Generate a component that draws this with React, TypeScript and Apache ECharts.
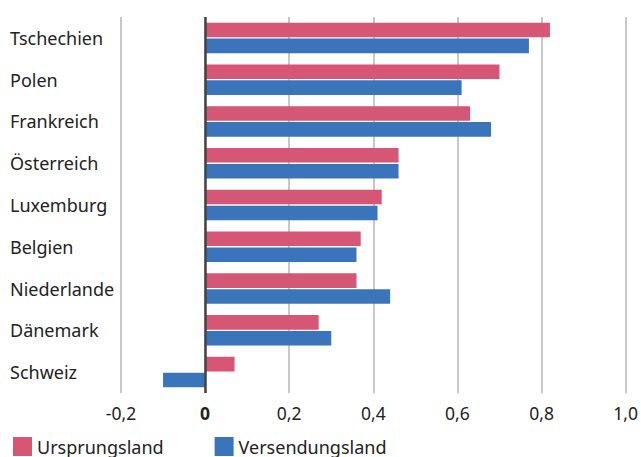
import React, { useEffect, useRef } from "react";
import * as echarts from "echarts";

const categories = ["Tschechien", "Polen", "Frankreich", "Österreich", "Luxemburg", "Belgien", "Niederlande", "Dänemark", "Schweiz"];
const ursprungsland = [0.82, 0.70, 0.63, 0.46, 0.42, 0.37, 0.36, 0.27, 0.07];
const versendungsland = [0.77, 0.61, 0.68, 0.46, 0.41, 0.36, 0.44, 0.30, -0.10];
const seriesNames = ["Ursprungsland", "Versendungsland"];
const xMin = -0.2;
const xMax = 1.0;
const xStep = 0.2;

const FONT = "'Noto Sans', sans-serif";

export default function App() {
  const ref = useRef<HTMLDivElement>(null);
  useEffect(() => {
    if (!ref.current) return;
    const chart = echarts.init(ref.current, undefined, { renderer: "svg" });
    chart.setOption({
      animation: false,
      backgroundColor: "#ffffff",
      textStyle: { fontFamily: FONT },
      grid: { left: 121, right: 15, top: 17, bottom: 64, containLabel: false },
      legend: {
        left: 13,
        top: 437,
        padding: 0,
        itemWidth: 19,
        itemHeight: 19,
        itemGap: 51,
        icon: "rect",
        textStyle: { fontSize: 18, color: "#222", fontFamily: FONT, lineHeight: 19 },
        data: seriesNames,
      },
      xAxis: {
        type: "value",
        min: xMin,
        max: xMax,
        interval: xStep,
        axisLine: { show: false },
        axisTick: { show: false },
        splitLine: { show: true, lineStyle: { color: "#b4b4b4", width: 1.5 } },
        axisLabel: {
          margin: 11,
          fontSize: 17.5,
          color: "#222",
          fontFamily: FONT,
          formatter: (v: number) => {
            if (Math.abs(v) < 1e-9) return "{b|0}";
            return v.toFixed(1).replace(".", ",");
          },
          rich: { b: { fontWeight: "bold", fontSize: 17.5, color: "#222", fontFamily: FONT } },
        },
      },
      yAxis: {
        type: "category",
        data: categories,
        inverse: true,
        axisLine: { show: false },
        axisTick: { show: false },
        splitLine: { show: false },
        axisLabel: { align: "left", margin: 111, fontSize: 18, color: "#222", fontFamily: FONT },
      },
      series: [
        {
          name: seriesNames[0],
          type: "bar",
          data: ursprungsland,
          itemStyle: { color: "#d65676" },
          barGap: "9%",
          barCategoryGap: "27%",
          markLine: {
            silent: true,
            symbol: "none",
            label: { show: false },
            lineStyle: { color: "#444444", width: 2.5, type: "solid" },
            data: [{ xAxis: 0 }],
          },
        },
        {
          name: seriesNames[1],
          type: "bar",
          data: versendungsland,
          itemStyle: { color: "#3a74ba" },
          barGap: "9%",
          barCategoryGap: "27%",
        },
      ],
    });
    return () => chart.dispose();
  }, []);
  return <div ref={ref} style={{ width: 641, height: 457, position: "absolute", left: 0, top: 0 }} />;
}
